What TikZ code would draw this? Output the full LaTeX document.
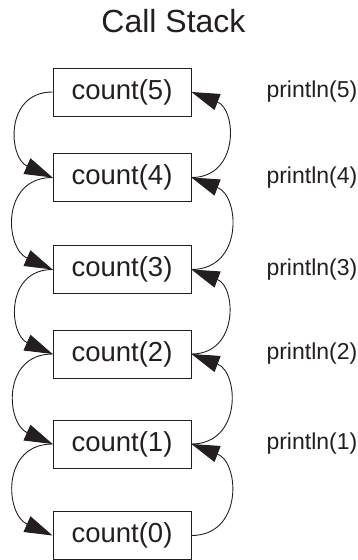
\documentclass[tikz,border=0pt]{standalone}
\usepackage{fontspec}
\setmainfont{Liberation Sans}
\usepackage{tikz}
\usetikzlibrary{arrows.meta}
\definecolor{stackink}{HTML}{231F20}

\begin{document}
\begin{tikzpicture}[
  x=1pt, y=1pt,
  frame/.style={draw=stackink, line width=0.9pt, minimum width=138pt, minimum height=48pt,
                inner sep=0pt, text=stackink, font=\fontsize{27.5}{30}\selectfont},
  plab/.style={anchor=west, text=stackink, font=\fontsize{23}{26}\selectfont},
  arr/.style={-{Triangle[length=28pt,width=17pt]}, line width=0.9pt, draw=stackink, looseness=1.45},
]
\useasboundingbox (0,0) rectangle (357,-560);
% title
\node[anchor=base, text=stackink, font=\fontsize{32}{36}\selectfont] (title) at (173.5,-32) {Call Stack};
% stack frames
\node[frame] (c5) at (122,-92)    {count(5)};
\node[frame] (c4) at (122,-177.5) {count(4)};
\node[frame] (c3) at (122,-269.5) {count(3)};
\node[frame] (c2) at (122,-354)   {count(2)};
\node[frame] (c1) at (122,-444)   {count(1)};
\node[frame] (c0) at (122,-535.5) {count(0)};
% output
\node[plab] (p5) at (263,-92)    {println(5)};
\node[plab] (p4) at (263,-177.5) {println(4)};
\node[plab] (p3) at (263,-269.5) {println(3)};
\node[plab] (p2) at (263,-354)   {println(2)};
\node[plab] (p1) at (263,-444)   {println(1)};
% calls going down
\draw[arr] (c5.west) to[out=180,in=156] (c4.west);
\draw[arr] (c4.west) to[out=180,in=156] (c3.west);
\draw[arr] (c3.west) to[out=180,in=156] (c2.west);
\draw[arr] (c2.west) to[out=180,in=156] (c1.west);
\draw[arr] (c1.west) to[out=180,in=156] (c0.west);
% returns going up
\draw[arr] (c0.east) to[out=0,in=-21] (c1.east);
\draw[arr] (c1.east) to[out=0,in=-21] (c2.east);
\draw[arr] (c2.east) to[out=0,in=-21] (c3.east);
\draw[arr] (c3.east) to[out=0,in=-21] (c4.east);
\draw[arr] (c4.east) to[out=0,in=-21] (c5.east);
\end{tikzpicture}
\end{document}
